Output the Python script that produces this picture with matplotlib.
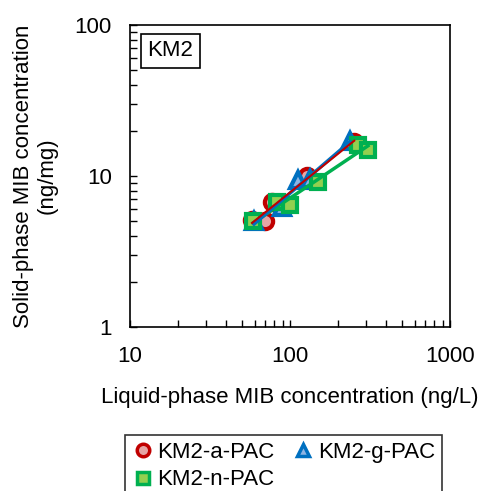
import matplotlib
matplotlib.use("Agg")
import matplotlib.pyplot as plt
import numpy as np

plt.rcParams['font.family'] = ['Liberation Sans', 'DejaVu Sans']

# Data
a_x = [57.9, 69.8, 77.2, 127.7, 252.0]
a_y = [5.1, 5.0, 6.7, 10.0, 16.8]
g_x = [59.6, 89.0, 112.0, 133.0, 237.0]
g_y = [5.0, 6.2, 9.4, 9.6, 17.0]
n_x = [58.9, 83.0, 100.0, 149.0, 265.0, 307.0]
n_y = [5.03, 6.7, 6.4, 9.1, 16.0, 14.9]

series = [
    ("KM2-a-PAC", a_x, a_y, 'o', '#C00000', '#E6A5A5', 1.5),
    ("KM2-g-PAC", g_x, g_y, '^', '#0070C0', '#8EB4E3', 2.5),
    ("KM2-n-PAC", n_x, n_y, 's', '#00B050', '#92D050', 2.5),
]

FS = 16

fig = plt.figure(figsize=(4.82, 4.91), dpi=100)
ax = fig.add_axes([130/482, 1-327/491, 320/482, 302/491])
ax.set_xscale('log')
ax.set_yscale('log')
ax.set_xlim(10, 1000)
ax.set_ylim(1, 100)

handles = []
for name, xs, ys, m, ec, fc, lw in series:
    h = ax.plot(xs, ys, linestyle='none', marker=m, markersize=11 if m != 's' else 10,
                markerfacecolor=fc, markeredgecolor=ec, markeredgewidth=3, label=name, zorder=3)[0]
    handles.append(h)

# power-law trend lines
for name, xs, ys, m, ec, fc, lw in reversed(series):
    lx, ly = np.log10(xs), np.log10(ys)
    k, b = np.polyfit(lx, ly, 1)
    xr = np.array([min(xs), max(xs)])
    ax.plot(xr, 10**(b + k*np.log10(xr)), color=ec, linewidth=lw, zorder=4)

ax.tick_params(which='both', direction='in', labelsize=FS, width=1)
ax.tick_params(which='major', length=5)
ax.tick_params(which='minor', length=5)
ax.set_xticks([10, 100, 1000])
ax.set_xticklabels(['10', '100', '1000'])
ax.set_yticks([1, 10, 100])
ax.set_yticklabels(['1', '10', '100'])
ax.tick_params(axis='x', pad=14)
ax.tick_params(axis='y', pad=13)
for s in ax.spines.values():
    s.set_linewidth(1.2)

ax.set_xlabel('Liquid-phase MIB concentration (ng/L)', fontsize=FS, labelpad=14)
ax.set_ylabel('Solid-phase MIB concentration\n(ng/mg)', fontsize=FS, labelpad=12, linespacing=1.2)

ax.text(0.055, 0.915, 'KM2', transform=ax.transAxes, fontsize=FS, va='center', ha='left',
        bbox=dict(boxstyle='square,pad=0.3', fc='white', ec='black', lw=1.2))

order = [handles[0], handles[2], handles[1]]
leg = fig.legend(handles=order, loc='upper left', ncol=2,
                 bbox_to_anchor=(125/482, 1-435/491),
                 fontsize=FS, frameon=True, fancybox=False, edgecolor='black',
                 handlelength=1.0, handletextpad=0.15, columnspacing=0.8,
                 borderpad=0.3, labelspacing=0.3, borderaxespad=0)
leg.get_frame().set_linewidth(1.2)
for h in leg.legend_handles:
    h.set_markersize(9)
    h.set_markeredgewidth(2.5)

fig.savefig('out.png', dpi=100)
